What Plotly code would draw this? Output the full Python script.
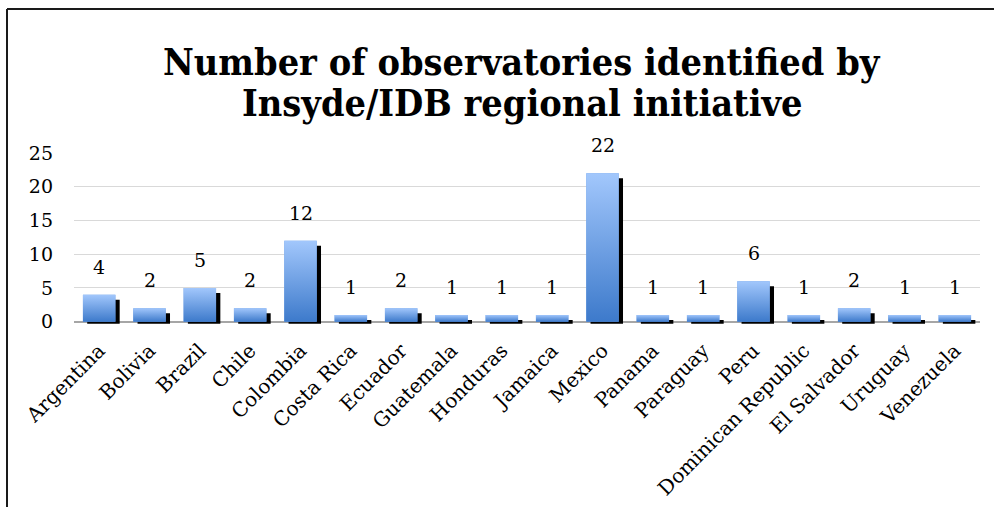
import plotly.graph_objects as go

countries = ["Argentina", "Bolivia", "Brazil", "Chile", "Colombia", "Costa Rica",
             "Ecuador", "Guatemala", "Honduras", "Jamaica", "Mexico", "Panama",
             "Paraguay", "Peru", "Dominican Republic", "El Salvador", "Uruguay", "Venezuela"]
observatories = [4, 2, 5, 2, 12, 1, 2, 1, 1, 1, 22, 1, 1, 6, 1, 2, 1, 1]
y_ticks = [0, 5, 10, 15, 20, 25]

title_lines = ["Number of observatories identified by", "Insyde/IDB regional initiative"]

SERIF = "DejaVu Serif"
TITLE_FONT = "DejaVu Serif Condensed"
BAR_W = 0.645
SHADOW_DX = 0.085      # category units
SHADOW_DY = 0.75       # value units (drop of shadow top)
SHADOW_BASE = -0.3
BAR_DARK = "#3d7acb"
BAR_LIGHT = "#a2c7fc"

idx = list(range(len(countries)))

fig = go.Figure()

# drop shadow
fig.add_trace(go.Bar(
    x=idx,
    y=[v - SHADOW_DY - SHADOW_BASE for v in observatories],
    base=SHADOW_BASE,
    width=BAR_W, offset=-BAR_W / 2 + SHADOW_DX,
    marker=dict(color="#000000", line=dict(width=0)),
    hoverinfo="skip", showlegend=False,
))
# main bars
fig.add_trace(go.Bar(
    x=idx, y=observatories,
    width=BAR_W, offset=-BAR_W / 2,
    marker=dict(color="#6d9fe4", line=dict(width=0)),
    customdata=countries,
    hovertemplate="%{customdata}: %{y}<extra></extra>",
    showlegend=False,
))
# vertical gradient fill on each bar
for i, v in zip(idx, observatories):
    x0, x1 = i - BAR_W / 2, i + BAR_W / 2
    fig.add_trace(go.Scatter(
        x=[x0, x1, x1, x0, x0], y=[0, 0, v, v, 0],
        mode="lines", line=dict(width=0), fill="toself",
        fillgradient=dict(type="vertical", start=0, stop=v,
                          colorscale=[[0, BAR_DARK], [1, BAR_LIGHT]]),
        hoverinfo="skip", showlegend=False,
    ))

for i, v in zip(idx, observatories):
    fig.add_annotation(x=i, y=v, text=str(v), showarrow=False,
                       yshift=28, font=dict(family=SERIF, size=19, color="#000"))

W, H = 994, 507
L, R, T, B = 74, 14, 153, 183
pw, ph = W - L - R, H - T - B


def px_x(x):
    return (x - L) / pw


def px_y(y):
    return (H - B - y) / ph


for line_text, yc in zip(title_lines, [62, 103]):
    fig.add_annotation(xref="paper", yref="paper", x=px_x(522), y=px_y(yc),
                       xanchor="center", yanchor="middle", showarrow=False,
                       text="<b>" + line_text + "</b>",
                       font=dict(family=TITLE_FONT, size=37.5, color="#000"))

fig.update_layout(
    width=W, height=H,
    margin=dict(l=L, r=R, t=T, b=B, autoexpand=False),
    paper_bgcolor="white", plot_bgcolor="white",
    barmode="overlay",
    xaxis=dict(range=[-0.5, len(countries) - 0.5], tickvals=idx, ticktext=countries,
               tickangle=-45, showgrid=False, showline=False, zeroline=False,
               ticks="", ticklabelstandoff=10, automargin=False,
               tickfont=dict(family=SERIF, size=20, color="#000")),
    yaxis=dict(range=[-0.35, 25], tickvals=y_ticks, showgrid=True, gridcolor="#d9d9d9",
               gridwidth=1, zeroline=True, zerolinecolor="#a6a6a6", zerolinewidth=1.5,
               showline=False, ticks="", ticklabelstandoff=20, automargin=False,
               tickfont=dict(family=SERIF, size=19, color="#000")),
    shapes=[
        dict(type="line", xref="paper", yref="paper", x0=px_x(7), x1=px_x(7),
             y0=px_y(9), y1=px_y(H), line=dict(color="#1a1a1a", width=2)),
        dict(type="line", xref="paper", yref="paper", x0=px_x(7), x1=px_x(W),
             y0=px_y(9), y1=px_y(9), line=dict(color="#1a1a1a", width=2)),
    ],
)

fig.write_html("out.html")
